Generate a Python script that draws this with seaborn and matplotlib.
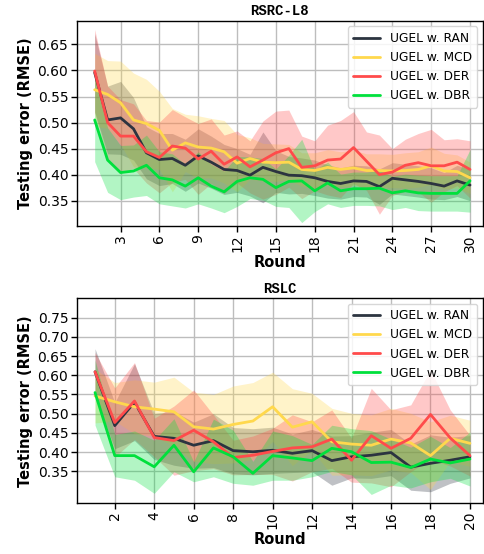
import numpy as np
import pandas as pd
import matplotlib
matplotlib.use("Agg")
import matplotlib.pyplot as plt
import seaborn as sns

# ---- data -------------------------------------------------------------
methods = ["UGEL w. RAN", "UGEL w. MCD", "UGEL w. DER", "UGEL w. DBR"]
colors = ["#2c3440", "#ffd84d", "#ff4b4b", "#00e03c"]

# RSRC-L8 (30 rounds)
rsrc_rounds = list(range(1, 31))
rsrc_ran = [0.596, 0.505, 0.509, 0.488, 0.442, 0.429, 0.431, 0.418, 0.436, 0.424,
            0.410, 0.408, 0.399, 0.414, 0.406, 0.399, 0.398, 0.394, 0.387, 0.383,
            0.388, 0.387, 0.377, 0.393, 0.390, 0.387, 0.383, 0.378, 0.388, 0.380]
rsrc_mcd = [0.563, 0.554, 0.538, 0.505, 0.498, 0.485, 0.447, 0.461, 0.453, 0.451,
            0.444, 0.422, 0.431, 0.424, 0.423, 0.424, 0.410, 0.408, 0.414, 0.410,
            0.413, 0.408, 0.408, 0.407, 0.408, 0.410, 0.417, 0.407, 0.406, 0.394]
rsrc_der = [0.599, 0.500, 0.474, 0.474, 0.444, 0.433, 0.455, 0.451, 0.430, 0.445,
            0.420, 0.434, 0.415, 0.428, 0.442, 0.450, 0.414, 0.417, 0.428, 0.430,
            0.452, 0.426, 0.400, 0.405, 0.418, 0.423, 0.417, 0.417, 0.424, 0.410]
rsrc_dbr = [0.505, 0.428, 0.404, 0.407, 0.418, 0.394, 0.390, 0.378, 0.394, 0.378,
            0.367, 0.387, 0.394, 0.391, 0.375, 0.387, 0.388, 0.369, 0.384, 0.369,
            0.373, 0.373, 0.374, 0.365, 0.369, 0.365, 0.364, 0.364, 0.364, 0.388]
rsrc_ran_sd = [0.075, 0.065, 0.070, 0.060, 0.050, 0.050, 0.048, 0.050, 0.052, 0.050,
               0.048, 0.042, 0.040, 0.068, 0.040, 0.036, 0.034, 0.034, 0.032, 0.030,
               0.030, 0.030, 0.034, 0.030, 0.030, 0.030, 0.030, 0.026, 0.030, 0.030]
rsrc_mcd_sd = [0.070, 0.065, 0.080, 0.090, 0.085, 0.075, 0.080, 0.055, 0.060, 0.057,
               0.060, 0.055, 0.040, 0.036, 0.036, 0.034, 0.032, 0.034, 0.034, 0.034,
               0.034, 0.032, 0.032, 0.032, 0.034, 0.034, 0.036, 0.034, 0.032, 0.030]
rsrc_der_sd = [0.080, 0.070, 0.070, 0.062, 0.060, 0.068, 0.070, 0.060, 0.068, 0.062,
               0.056, 0.050, 0.050, 0.075, 0.080, 0.074, 0.060, 0.048, 0.067, 0.074,
               0.069, 0.056, 0.076, 0.045, 0.050, 0.056, 0.070, 0.050, 0.045, 0.055]
rsrc_dbr_sd = [0.080, 0.062, 0.052, 0.050, 0.058, 0.050, 0.050, 0.042, 0.050, 0.042,
               0.040, 0.048, 0.040, 0.040, 0.036, 0.050, 0.080, 0.040, 0.040, 0.032,
               0.032, 0.032, 0.034, 0.032, 0.032, 0.034, 0.034, 0.034, 0.034, 0.060]

# RSLC (20 rounds)
rslc_rounds = list(range(1, 21))
rslc_ran = [0.609, 0.469, 0.530, 0.441, 0.436, 0.418, 0.430, 0.404, 0.401, 0.405,
            0.397, 0.404, 0.378, 0.388, 0.392, 0.399, 0.361, 0.371, 0.379, 0.388]
rslc_mcd = [0.546, 0.531, 0.518, 0.512, 0.505, 0.466, 0.460, 0.472, 0.481, 0.518,
            0.465, 0.479, 0.427, 0.421, 0.418, 0.434, 0.424, 0.391, 0.436, 0.423]
rslc_der = [0.609, 0.477, 0.533, 0.438, 0.430, 0.457, 0.427, 0.386, 0.392, 0.402,
            0.411, 0.414, 0.434, 0.379, 0.443, 0.410, 0.436, 0.498, 0.437, 0.391]
rslc_dbr = [0.555, 0.391, 0.391, 0.362, 0.418, 0.349, 0.411, 0.388, 0.345, 0.391,
            0.385, 0.378, 0.410, 0.401, 0.373, 0.374, 0.360, 0.382, 0.372, 0.382]
rslc_ran_sd = [0.060, 0.060, 0.100, 0.060, 0.070, 0.060, 0.070, 0.060, 0.060, 0.060,
               0.050, 0.055, 0.064, 0.055, 0.060, 0.060, 0.060, 0.074, 0.060, 0.055]
rslc_mcd_sd = [0.070, 0.050, 0.070, 0.070, 0.090, 0.090, 0.090, 0.100, 0.100, 0.090,
               0.100, 0.074, 0.087, 0.080, 0.079, 0.080, 0.077, 0.088, 0.060, 0.060]
rslc_der_sd = [0.050, 0.090, 0.100, 0.050, 0.090, 0.105, 0.070, 0.045, 0.050, 0.060,
               0.086, 0.065, 0.076, 0.057, 0.123, 0.100, 0.087, 0.116, 0.073, 0.053]
rslc_dbr_sd = [0.085, 0.055, 0.064, 0.069, 0.069, 0.026, 0.075, 0.069, 0.031, 0.064,
               0.058, 0.042, 0.060, 0.060, 0.083, 0.060, 0.053, 0.059, 0.040, 0.070]

rsrc_ticks = list(range(3, 31, 3))
rslc_ticks = list(range(2, 21, 2))
rsrc_yticks = [0.35, 0.40, 0.45, 0.50, 0.55, 0.60, 0.65]
rslc_yticks = [0.35, 0.40, 0.45, 0.50, 0.55, 0.60, 0.65, 0.70, 0.75]

# ---- style ------------------------------------------------------------
sns.set_style("whitegrid")
plt.rcParams["font.family"] = ["DejaVu Sans"]
plt.rcParams["axes.edgecolor"] = "black"
plt.rcParams["axes.linewidth"] = 1.0
plt.rcParams["grid.color"] = "#bdbdbd"
plt.rcParams["grid.linewidth"] = 1.0
plt.rcParams["text.color"] = "black"
plt.rcParams["axes.labelcolor"] = "black"
plt.rcParams["xtick.color"] = "black"
plt.rcParams["ytick.color"] = "black"


def panel(ax, title, rounds, means, sds, xticks, yticks, xlim, ylim):
    frames = []
    for name, m in zip(methods, means):
        frames.append(pd.DataFrame({"Round": rounds, "RMSE": m, "Method": name}))
    df = pd.concat(frames, ignore_index=True)
    for name, m, s, c in zip(methods, means, sds, colors):
        m = np.asarray(m)
        s = np.asarray(s)
        ax.fill_between(rounds, m - s, m + s, color=c, alpha=0.3, linewidth=0)
    sns.lineplot(data=df, x="Round", y="RMSE", hue="Method", hue_order=methods,
                 palette=colors, linewidth=2, ax=ax, errorbar=None)
    ax.set_xlim(*xlim)
    ax.set_ylim(*ylim)
    ax.set_xticks(xticks)
    ax.set_xticklabels([str(t) for t in xticks], rotation=90, fontsize=10)
    ax.set_yticks(yticks)
    ax.set_yticklabels([f"{t:.2f}" for t in yticks], fontsize=10)
    ax.tick_params(axis="both", direction="out", length=4, width=1,
                   color="black", bottom=True, left=True, pad=2)
    ax.set_xlabel("Round", fontsize=10.5, fontweight="bold", labelpad=2)
    ax.set_ylabel("Testing error (RMSE)", fontsize=10.5, fontweight="bold",
                  labelpad=3)
    ax.set_title(title, fontsize=10, fontweight="bold",
                 family="Liberation Mono", pad=4)
    for sp in ax.spines.values():
        sp.set_visible(True)
        sp.set_color("black")
    leg = ax.legend(loc="upper right", fontsize=8.8, frameon=True,
                    fancybox=True, framealpha=0.85, borderpad=0.45,
                    labelspacing=0.5, handlelength=2.2, handletextpad=0.8,
                    borderaxespad=0.45)
    leg.get_frame().set_edgecolor("#d0d0d0")


fig = plt.figure(figsize=(4.85, 5.54), dpi=100)
ax1 = fig.add_axes([0.1581, 0.5926, 0.8377, 0.3695])
ax2 = fig.add_axes([0.1581, 0.0915, 0.8377, 0.3700])

panel(ax1, "RSRC-L8", rsrc_rounds,
      [rsrc_ran, rsrc_mcd, rsrc_der, rsrc_dbr],
      [rsrc_ran_sd, rsrc_mcd_sd, rsrc_der_sd, rsrc_dbr_sd],
      rsrc_ticks, rsrc_yticks, (-0.39, 31.0), (0.302, 0.695))
panel(ax2, "RSLC", rslc_rounds,
      [rslc_ran, rslc_mcd, rslc_der, rslc_dbr],
      [rslc_ran_sd, rslc_mcd_sd, rslc_der_sd, rslc_dbr_sd],
      rslc_ticks, rslc_yticks, (0.07, 20.66), (0.267, 0.80))

fig.savefig("out.png", dpi=100)
